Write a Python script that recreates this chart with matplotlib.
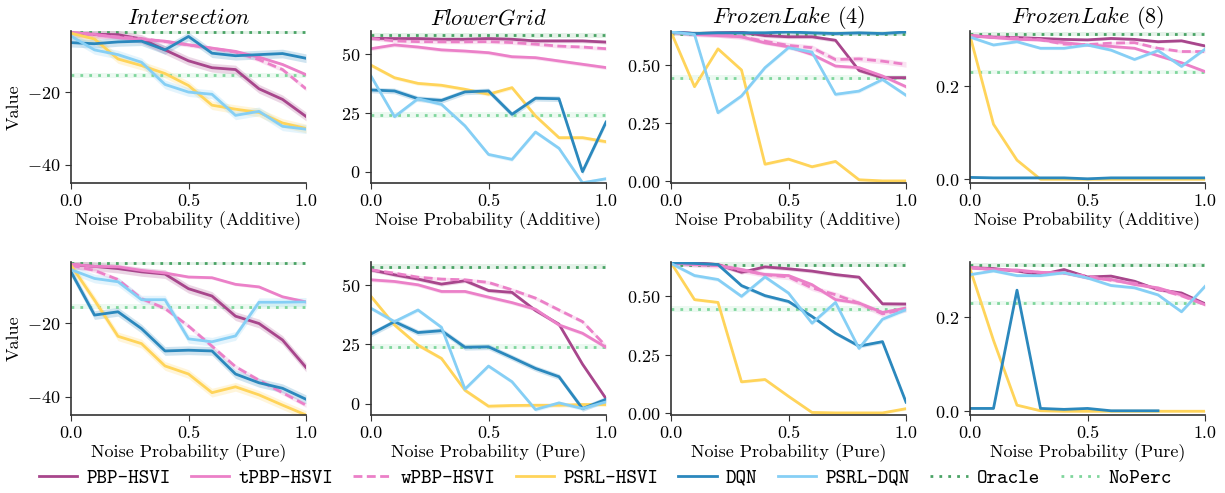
import numpy as np
import matplotlib
matplotlib.use("Agg")
import matplotlib.pyplot as plt

plt.rcParams["font.family"] = "serif"
plt.rcParams["font.serif"] = ["cmr10", "DejaVu Serif"]
plt.rcParams["mathtext.fontset"] = "cm"
plt.rcParams["axes.formatter.use_mathtext"] = True

noise = [0.0, 0.1, 0.2, 0.3, 0.4, 0.5, 0.6, 0.7, 0.8, 0.9, 1.0]
methods = ["PBP-HSVI", "tPBP-HSVI", "wPBP-HSVI", "PSRL-HSVI", "DQN", "PSRL-DQN"]
envs = ["Intersection", "FlowerGrid", "FrozenLake (4)", "FrozenLake (8)"]
noise_kinds = ["Additive", "Pure"]

# one dict per panel: method -> values at each noise level
intersection_add = {
    "PBP-HSVI": [-3.8, -4.1, -4.2, -5.4, -8.4, -11.4, -13.3, -13.8, -19.1, -22.0, -26.7],
    "tPBP-HSVI": [-3.6, -4.1, -5.0, -5.5, -6.0, -7.0, -7.9, -8.8, -10.4, -12.4, -15.2],
    "wPBP-HSVI": [-3.6, -4.3, -4.8, -5.3, -6.1, -7.0, -8.0, -9.0, -11.1, -13.8, -19.1],
    "PSRL-HSVI": [-3.8, -5.4, -10.9, -12.7, -14.9, -18.2, -23.6, -24.7, -25.6, -28.5, -30.0],
    "DQN": [-6.4, -6.7, -6.2, -6.0, -8.4, -4.7, -9.3, -10.0, -9.7, -9.4, -10.7],
    "PSRL-DQN": [-4.6, -8.4, -9.7, -11.8, -17.9, -20.0, -20.6, -26.4, -25.3, -29.4, -30.2],
}
intersection_pure = {
    "PBP-HSVI": [-3.9, -4.4, -5.0, -5.9, -6.5, -10.5, -12.5, -18.0, -20.0, -24.5, -32.0],
    "tPBP-HSVI": [-3.8, -4.4, -4.5, -5.5, -6.2, -7.3, -7.5, -9.3, -10.0, -12.7, -14.1],
    "wPBP-HSVI": [-4.1, -5.5, -8.0, -13.2, -15.9, -20.7, -26.2, -31.8, -35.5, -38.9, -42.3],
    "PSRL-HSVI": [-4.1, -13.6, -23.5, -25.5, -31.6, -33.8, -38.9, -37.3, -39.5, -42.3, -45.0],
    "DQN": [-5.9, -17.7, -16.8, -21.4, -27.5, -27.3, -27.5, -33.8, -36.2, -37.7, -40.7],
    "PSRL-DQN": [-5.3, -7.7, -8.6, -13.5, -13.5, -24.2, -25.0, -23.4, -14.2, -14.2, -14.1],
}
flowergrid_add = {
    "PBP-HSVI": [56.5, 56.4, 56.4, 56.1, 56.1, 56.4, 56.1, 55.4, 55.4, 55.4, 54.9],
    "tPBP-HSVI": [52.1, 53.7, 52.8, 51.6, 51.1, 50.4, 48.7, 48.3, 46.9, 45.5, 44.1],
    "wPBP-HSVI": [56.5, 55.4, 55.1, 55.0, 55.0, 55.1, 54.7, 54.0, 53.2, 52.8, 52.1],
    "PSRL-HSVI": [45.1, 39.8, 37.4, 36.6, 34.9, 32.8, 35.6, 23.6, 14.4, 14.4, 12.7],
    "DQN": [34.6, 34.2, 30.9, 30.2, 33.8, 34.2, 24.3, 31.1, 30.9, 0.0, 21.0],
    "PSRL-DQN": [40.5, 23.3, 30.9, 28.5, 19.4, 7.3, 5.2, 16.8, 9.9, -4.7, -3.0],
}
flowergrid_pure = {
    "PBP-HSVI": [56.3, 54.2, 52.4, 50.3, 51.7, 47.6, 46.8, 39.2, 33.4, 16.6, 2.1],
    "tPBP-HSVI": [52.1, 51.4, 50.0, 47.2, 47.2, 44.8, 42.5, 39.7, 33.1, 29.6, 23.7],
    "wPBP-HSVI": [56.3, 54.9, 53.2, 52.4, 52.1, 51.0, 47.9, 44.4, 39.4, 34.5, 24.2],
    "PSRL-HSVI": [45.1, 33.1, 24.6, 19.0, 5.6, -1.1, -0.8, -0.7, -0.7, -0.4, -0.4],
    "DQN": [29.3, 34.5, 29.9, 30.7, 23.7, 23.9, 19.4, 14.8, 11.3, -2.1, 1.8],
    "PSRL-DQN": [40.1, 34.5, 39.4, 32.1, 6.1, 15.8, 9.2, -2.5, 0.3, -2.1, 0.7],
}
frozen4_add = {
    "PBP-HSVI": [0.643, 0.636, 0.639, 0.642, 0.627, 0.622, 0.622, 0.607, 0.477, 0.446, 0.446],
    "tPBP-HSVI": [0.643, 0.632, 0.627, 0.622, 0.596, 0.579, 0.546, 0.496, 0.489, 0.453, 0.407],
    "wPBP-HSVI": [0.643, 0.635, 0.632, 0.622, 0.603, 0.585, 0.575, 0.524, 0.527, 0.517, 0.503],
    "PSRL-HSVI": [0.643, 0.407, 0.570, 0.479, 0.073, 0.095, 0.062, 0.085, 0.006, 0.001, 0.001],
    "DQN": [0.643, 0.636, 0.639, 0.639, 0.639, 0.643, 0.639, 0.636, 0.639, 0.636, 0.643],
    "PSRL-DQN": [0.643, 0.632, 0.295, 0.367, 0.489, 0.575, 0.556, 0.374, 0.388, 0.438, 0.370],
}
frozen4_pure = {
    "PBP-HSVI": [0.647, 0.644, 0.636, 0.603, 0.626, 0.618, 0.608, 0.593, 0.582, 0.468, 0.467],
    "tPBP-HSVI": [0.644, 0.636, 0.632, 0.615, 0.593, 0.589, 0.550, 0.486, 0.471, 0.431, 0.450],
    "wPBP-HSVI": [0.644, 0.636, 0.632, 0.612, 0.593, 0.583, 0.536, 0.507, 0.471, 0.425, 0.445],
    "PSRL-HSVI": [0.644, 0.486, 0.474, 0.134, 0.144, 0.072, 0.003, 0.001, 0.001, 0.001, 0.019],
    "DQN": [0.644, 0.641, 0.636, 0.546, 0.503, 0.478, 0.414, 0.342, 0.287, 0.306, 0.047],
    "PSRL-DQN": [0.641, 0.589, 0.572, 0.500, 0.583, 0.514, 0.385, 0.474, 0.277, 0.402, 0.443],
}
frozen8_add = {
    "PBP-HSVI": [0.308, 0.305, 0.304, 0.302, 0.300, 0.299, 0.302, 0.300, 0.295, 0.297, 0.286],
    "tPBP-HSVI": [0.308, 0.304, 0.300, 0.299, 0.293, 0.288, 0.285, 0.281, 0.265, 0.250, 0.231],
    "wPBP-HSVI": [0.308, 0.305, 0.303, 0.299, 0.290, 0.289, 0.292, 0.293, 0.281, 0.274, 0.274],
    "PSRL-HSVI": [0.308, 0.118, 0.041, 0.000, 0.000, 0.000, 0.000, 0.000, 0.000, 0.000, 0.000],
    "DQN": [0.004, 0.003, 0.003, 0.003, 0.003, 0.001, 0.003, 0.003, 0.003, 0.003, 0.003],
    "PSRL-DQN": [0.305, 0.288, 0.295, 0.281, 0.281, 0.288, 0.277, 0.257, 0.276, 0.242, 0.279],
}
frozen8_pure = {
    "PBP-HSVI": [0.306, 0.304, 0.299, 0.291, 0.302, 0.286, 0.288, 0.277, 0.259, 0.252, 0.229],
    "tPBP-HSVI": [0.306, 0.302, 0.301, 0.296, 0.295, 0.284, 0.281, 0.270, 0.263, 0.248, 0.227],
    "wPBP-HSVI": [0.306, 0.302, 0.299, 0.296, 0.294, 0.288, 0.279, 0.273, 0.260, 0.246, 0.227],
    "PSRL-HSVI": [0.304, 0.151, 0.013, 0.001, 0.000, 0.000, 0.000, 0.000, 0.000, 0.000, 0.000],
    "DQN": [0.006, 0.006, 0.258, 0.006, 0.004, 0.006, 0.001, 0.001, 0.001, np.nan, np.nan],
    "PSRL-DQN": [0.291, 0.299, 0.289, 0.289, 0.295, 0.284, 0.268, 0.263, 0.248, 0.212, 0.266],
}

# shaded spread for each method, per environment
spread = {
    "Intersection": [1.2, 0.4, 0.6, 1.2, 1.2, 1.2],
    "FlowerGrid": [0.8, 0.8, 0.8, 0.8, 1.2, 0.8],
    "FrozenLake (4)": [0.008, 0.008, 0.012, 0.006, 0.008, 0.008],
    "FrozenLake (8)": [0.003, 0.003, 0.003, 0.002, 0.002, 0.003],
}
oracle = {"Intersection": -3.5, "FlowerGrid": 57.7, "FrozenLake (4)": 0.636, "FrozenLake (8)": 0.311}
noperc = {"Intersection": -15.4, "FlowerGrid": 24.0, "FrozenLake (4)": 0.446, "FrozenLake (8)": 0.230}
ylims = {
    "Intersection": (-45.0, -3.2),
    "FlowerGrid": (-4.8, 59.6),
    "FrozenLake (4)": (-0.008, 0.647),
    "FrozenLake (8)": (-0.008, 0.318),
}
yticks = {
    "Intersection": [-40, -20],
    "FlowerGrid": [0, 25, 50],
    "FrozenLake (4)": [0.0, 0.25, 0.5],
    "FrozenLake (8)": [0.0, 0.2],
}
ytick_fmt = {"Intersection": "%d", "FlowerGrid": "%d", "FrozenLake (4)": "%.2f", "FrozenLake (8)": "%.1f"}
titles = {
    "Intersection": r"$\mathit{Intersection}$",
    "FlowerGrid": r"$\mathit{FlowerGrid}$",
    "FrozenLake (4)": r"$\mathit{FrozenLake}$ (4)",
    "FrozenLake (8)": r"$\mathit{FrozenLake}$ (8)",
}
panels = {
    ("Additive", "Intersection"): intersection_add,
    ("Pure", "Intersection"): intersection_pure,
    ("Additive", "FlowerGrid"): flowergrid_add,
    ("Pure", "FlowerGrid"): flowergrid_pure,
    ("Additive", "FrozenLake (4)"): frozen4_add,
    ("Pure", "FrozenLake (4)"): frozen4_pure,
    ("Additive", "FrozenLake (8)"): frozen8_add,
    ("Pure", "FrozenLake (8)"): frozen8_pure,
}

colors = {
    "PBP-HSVI": "#a8468c",
    "tPBP-HSVI": "#eb80c8",
    "wPBP-HSVI": "#eb80c8",
    "PSRL-HSVI": "#ffd45a",
    "DQN": "#2b88bd",
    "PSRL-DQN": "#86cff5",
}
styles = {m: "-" for m in methods}
styles["wPBP-HSVI"] = (0, (3.2, 1.6))
oracle_color = "#4aa365"
noperc_color = "#7fd69c"

fig = plt.figure(figsize=(12.25, 4.93), dpi=100)
lefts = [71, 371, 671, 970]
W, H = 1225.0, 493.0
rows = {"Additive": (31, 183), "Pure": (262, 415)}

handles = {}
for kind in noise_kinds:
    top, bottom = rows[kind]
    for j, env in enumerate(envs):
        ax = fig.add_axes([lefts[j] / W, 1 - bottom / H, 235 / W, (bottom - top) / H])
        data = panels[(kind, env)]
        x = np.array(noise)
        for val, c, lab in [(oracle[env], oracle_color, "Oracle"), (noperc[env], noperc_color, "NoPerc")]:
            band = spread[env][1] * 1.5
            ax.axhspan(val - band, val + band, color=c, alpha=0.14, lw=0)
            h, = ax.plot([0, 1], [val, val], color=c, lw=2, ls=(0, (1, 2.2)), label=lab)
            handles[lab] = h
        for m, s in zip(methods, spread[env]):
            y = np.array(data[m], dtype=float)
            ax.fill_between(x, y - s, y + s, color=colors[m], alpha=0.22, lw=0)
            h, = ax.plot(x, y, color=colors[m], lw=2, ls=styles[m], label=m)
            handles[m] = h
        ax.set_xlim(0, 1)
        ax.set_ylim(*ylims[env])
        ax.set_xticks([0, 0.5, 1.0])
        ax.set_xticklabels(["0.0", "0.5", "1.0"])
        ax.set_yticks(yticks[env])
        ax.set_yticklabels([("$" + ytick_fmt[env] + "$") % v if v >= 0 else "$-%d$" % abs(v) for v in yticks[env]])
        ax.tick_params(labelsize=13, length=4, color="#333333")
        for side in ["top", "right"]:
            ax.spines[side].set_visible(False)
        for side in ["left", "bottom"]:
            ax.spines[side].set_color("#333333")
            ax.spines[side].set_linewidth(1.2)
        ax.set_xlabel(f"Noise Probability ({kind})", fontsize=13, labelpad=2)
        if j == 0:
            ax.set_ylabel("Value", fontsize=13)
        if kind == "Additive":
            ax.set_title(titles[env], fontsize=16, pad=5)

order = methods + ["Oracle", "NoPerc"]
fig.legend([handles[k] for k in order], order, loc="center", bbox_to_anchor=(0.494, 1 - 478 / H),
           ncol=8, frameon=False, prop={"family": "cmtt10", "size": 14.5},
           handlelength=1.9, columnspacing=1.0, handletextpad=0.46)

fig.savefig("out.png", dpi=100)
plt.close(fig)
